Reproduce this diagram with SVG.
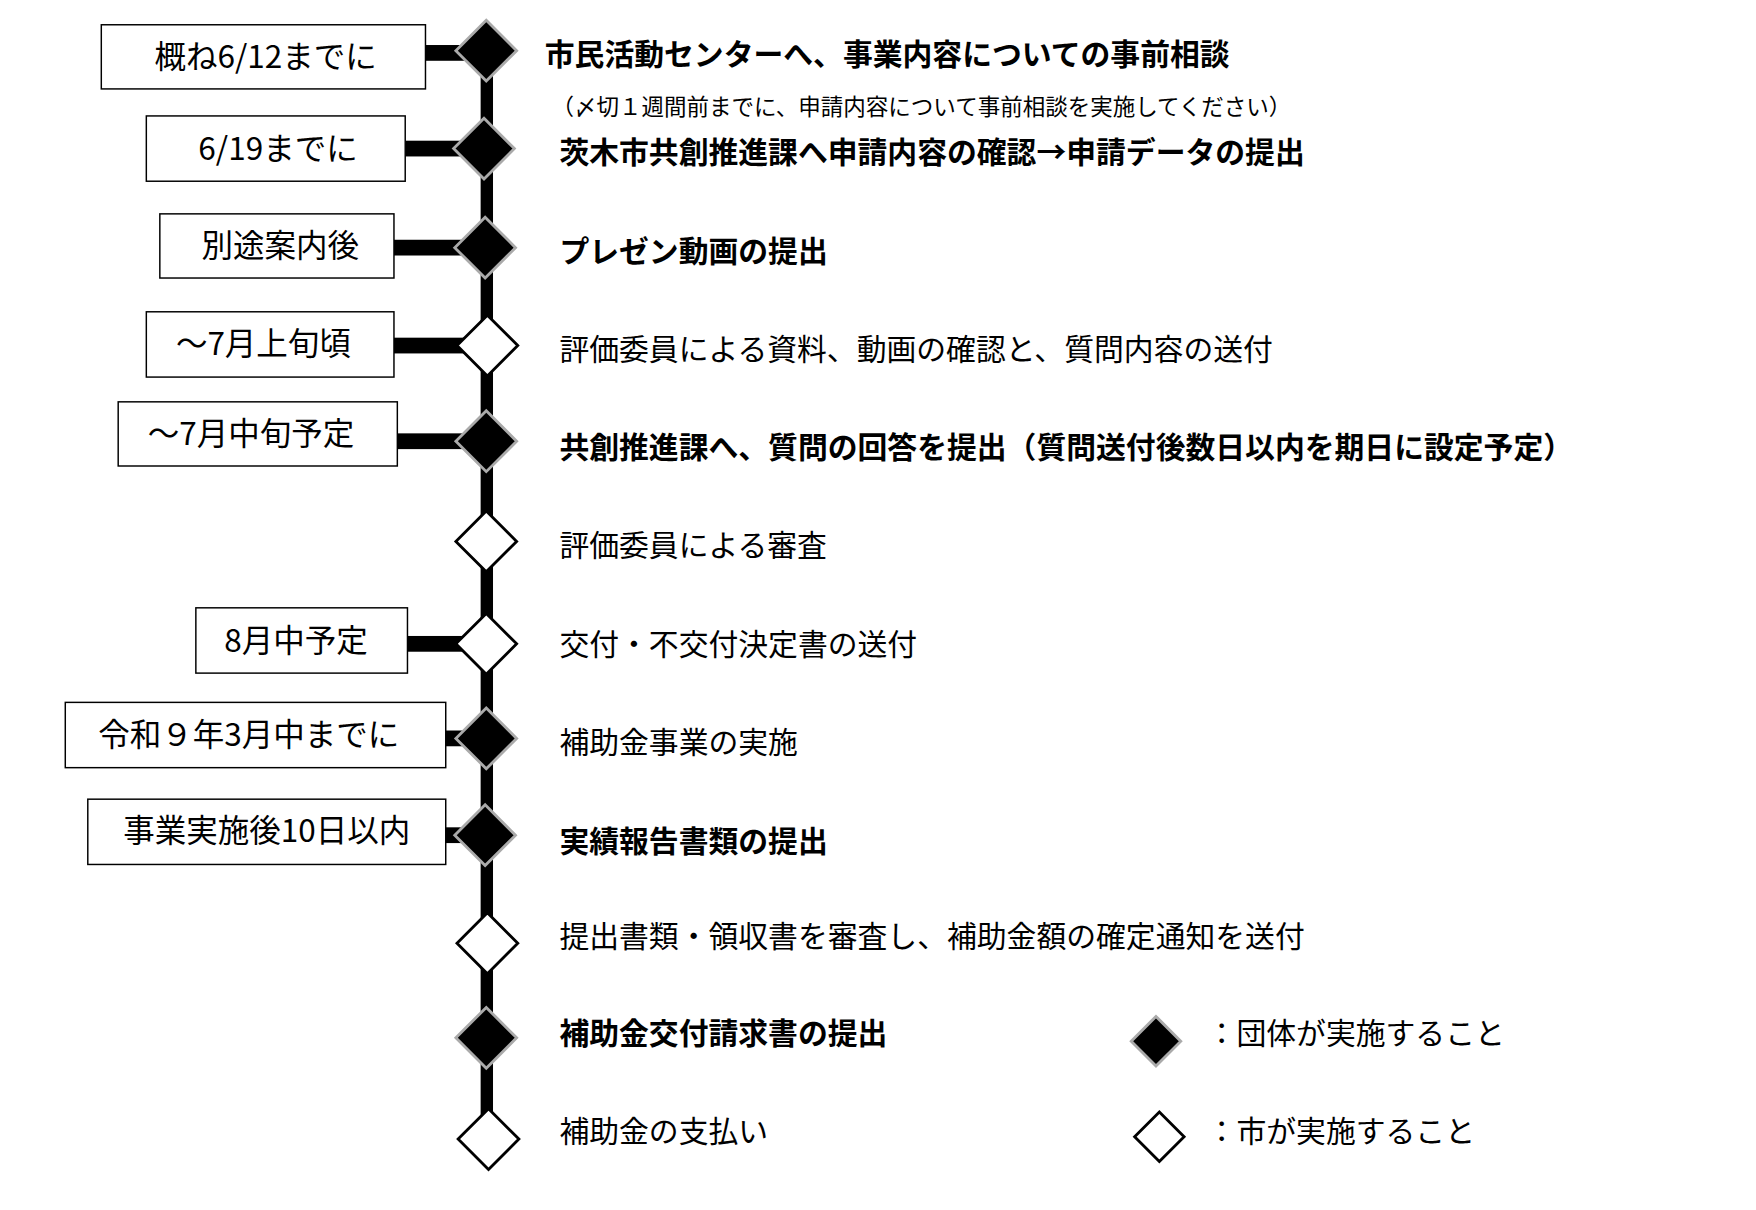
<svg xmlns="http://www.w3.org/2000/svg" width="1756" height="1210" viewBox="0 0 1756 1210">
<style>
.box{fill:#fff;stroke:#000;stroke-width:1.3}
.bar{fill:#000}
.b{fill:#000;stroke:#aaa;stroke-width:2.5}
.w{fill:#fff;stroke:#000;stroke-width:2.5}
text{font-family:"Noto Sans CJK JP","Noto Sans",sans-serif;fill:#000;dominant-baseline:central}
.lb{font-size:28px}
.t{font-size:26.5px}
.tb{font-size:26.5px;font-weight:bold}
.n{font-size:20px}
</style>
<rect width="1756" height="1210" fill="#fff"/>
<g transform="scale(1.1256)">
<g id="connectors">
<rect class="bar" x="427" y="45" width="11" height="965"/>
<rect class="bar" x="378" y="40" width="54" height="14"/>
<rect class="bar" x="360" y="125" width="72" height="14"/>
<rect class="bar" x="350" y="213" width="82" height="14"/>
<rect class="bar" x="350" y="300" width="82" height="14"/>
<rect class="bar" x="353" y="385" width="79" height="14"/>
<rect class="bar" x="362" y="565" width="70" height="14"/>
<rect class="bar" x="396" y="649" width="36" height="14"/>
<rect class="bar" x="396" y="735" width="36" height="14"/>
</g>
<g id="n1"><rect class="box" x="90" y="22" width="288" height="57"/><text class="lb" x="236" y="48" text-anchor="middle">概ね6/12までに</text><path class="b" d="M432 18 L459 45 L432 72 L405 45Z"/><text class="tb" x="484" y="46">市民活動センターへ、事業内容についての事前相談</text><text class="n" x="490" y="93">（〆切１週間前までに、申請内容について事前相談を実施してください）</text></g>
<g id="n2"><rect class="box" x="130" y="103" width="230" height="58"/><text class="lb" x="247" y="130" text-anchor="middle">6/19までに</text><path class="b" d="M430 105 L457 132 L430 159 L403 132Z"/><text class="tb" x="497" y="133">茨木市共創推進課へ申請内容の確認→申請データの提出</text></g>
<g id="n3"><rect class="box" x="142" y="190" width="208" height="57"/><text class="lb" x="249" y="216" text-anchor="middle">別途案内後</text><path class="b" d="M431 193 L458 220 L431 247 L404 220Z"/><text class="tb" x="497" y="221">プレゼン動画の提出</text></g>
<g id="n4"><rect class="box" x="130" y="277" width="220" height="58"/><text class="lb" x="234" y="303" text-anchor="middle">～7月上旬頃</text><path class="w" d="M433 280 L460 307 L433 334 L406 307Z"/><text class="t" x="497" y="308">評価委員による資料、動画の確認と、質問内容の送付</text></g>
<g id="n5"><rect class="box" x="105" y="357" width="248" height="57"/><text class="lb" x="223" y="383" text-anchor="middle">～7月中旬予定</text><path class="b" d="M432 365 L459 392 L432 419 L405 392Z"/><text class="tb" x="497" y="395">共創推進課へ、質問の回答を提出（質問送付後数日以内を期日に設定予定）</text></g>
<g id="n6"><path class="w" d="M432 454 L459 481 L432 508 L405 481Z"/><text class="t" x="497" y="482">評価委員による審査</text></g>
<g id="n7"><rect class="box" x="174" y="540" width="188" height="58"/><text class="lb" x="263" y="567" text-anchor="middle">8月中予定</text><path class="w" d="M432 545 L459 572 L432 599 L405 572Z"/><text class="t" x="497" y="570">交付・不交付決定書の送付</text></g>
<g id="n8"><rect class="box" x="58" y="624" width="338" height="58"/><text class="lb" x="221" y="650" text-anchor="middle">令和９年3月中までに</text><path class="b" d="M432 629 L459 656 L432 683 L405 656Z"/><text class="t" x="497" y="657">補助金事業の実施</text></g>
<g id="n9"><rect class="box" x="78" y="710" width="318" height="58"/><text class="lb" x="237" y="736" text-anchor="middle">事業実施後10日以内</text><path class="b" d="M431 715 L458 742 L431 769 L404 742Z"/><text class="tb" x="497" y="745">実績報告書類の提出</text></g>
<g id="n10"><path class="w" d="M433 811 L460 838 L433 865 L406 838Z"/><text class="t" x="497" y="830">提出書類・領収書を審査し、補助金額の確定通知を送付</text></g>
<g id="n11"><path class="b" d="M432 895 L459 922 L432 949 L405 922Z"/><text class="tb" x="497" y="916">補助金交付請求書の提出</text></g>
<g id="n12"><path class="w" d="M434 985 L461 1012 L434 1039 L407 1012Z"/><text class="t" x="497" y="1003">補助金の支払い</text></g>
<g id="legend"><path class="b" d="M1027 903 L1049 925 L1027 947 L1005 925Z"/><text class="t" x="1072" y="916">：団体が実施すること</text><path class="w" d="M1030 988 L1052 1010 L1030 1032 L1008 1010Z"/><text class="t" x="1072" y="1003">：市が実施すること</text></g>
</g>
</svg>
